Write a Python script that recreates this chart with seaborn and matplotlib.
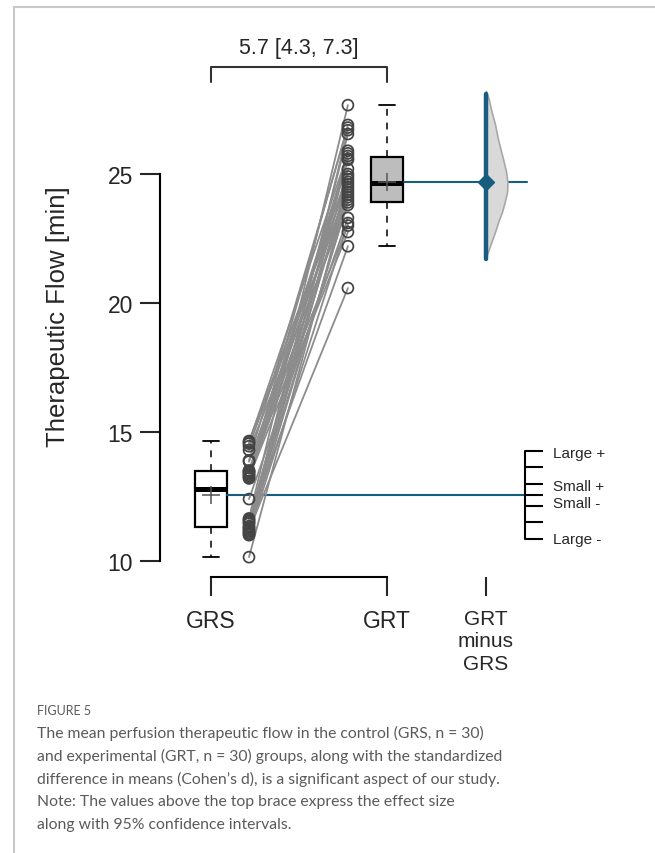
import matplotlib
matplotlib.use("Agg")
import matplotlib.pyplot as plt
from matplotlib.lines import Line2D
import numpy as np
import pandas as pd
import seaborn as sns

# paired measurements, subject i is grs[i] -> grt[i]
grs = [10.15, 11.0, 11.05, 11.1, 11.15, 11.2, 11.25, 11.3, 11.35, 11.45,
       11.5, 11.55, 11.6, 11.65, 12.4, 13.2, 13.25, 13.3, 13.35, 13.4,
       13.45, 13.5, 13.5, 13.85, 13.9, 14.3, 14.45, 14.55, 14.6, 14.65]
grt = [24.4, 25.9, 23.1, 26.7, 24.0, 20.58, 25.2, 24.8, 26.55, 23.9,
       22.2, 25.6, 24.6, 27.67, 23.3, 24.2, 22.75, 25.55, 24.9, 26.9,
       24.1, 23.0, 25.7, 24.5, 26.8, 23.8, 25.0, 24.3, 25.8, 24.7]
group_names = ["GRS", "GRT"]
diff_label = "GRT\nminus\nGRS"
y_label = "Therapeutic Flow [min]"

# Cohen's d and its 95% CI
d_mean = 5.7
d_ci = [4.3, 7.3]
effect_ticks = [-0.8, -0.5, -0.2, 0.0, 0.2, 0.5, 0.8]
effect_names = {0.8: "Large +", 0.2: "Small +", -0.2: "Small -", -0.8: "Large -"}

# outline of the bootstrap density (flow value, half width)
violin_y = [28.22, 27.9, 27.52, 26.94, 26.36, 25.9, 25.58, 25.1, 24.69,
            24.3, 23.9, 23.53, 23.15, 22.75, 22.35, 21.98, 21.78]
violin_w = [0.0, 0.016, 0.028, 0.051, 0.068, 0.085, 0.097, 0.114, 0.122,
            0.12, 0.106, 0.091, 0.07, 0.051, 0.03, 0.011, 0.0]

caption_head = "FIGURE 5"
caption = ["The mean perfusion therapeutic flow in the control (GRS, n = 30)",
           "and experimental (GRT, n = 30) groups, along with the standardized",
           "difference in means (Cohen\u2019s d), is a significant aspect of our study.",
           "Note: The values above the top brace express the effect size",
           "along with 95% confidence intervals."]

teal = "#165d7e"
sns.set_style("white")
plt.rcParams["font.family"] = ["Liberation Sans", "DejaVu Sans"]

n = len(grs)
df = pd.DataFrame({
    "group": ["GRS"] * n + ["GRT"] * n,
    "pos": [1] * n + [2] * n,
    "xpt": [1.216] * n + [1.778] * n,
    "value": grs + grt,
    "subject": list(range(n)) * 2,
})

fig = plt.figure(figsize=(6.55, 8.54), dpi=100)
ax = fig.add_axes([0, 0, 1, 1])
ax.set_facecolor("none")

sns.boxplot(data=df, x="pos", y="value", hue="group",
            palette={"GRS": "white", "GRT": "#bdbdbd"},
            native_scale=True, width=0.18, linecolor="black", linewidth=1.6,
            showfliers=False, showmeans=True, legend=False, ax=ax,
            medianprops=dict(linewidth=3.6, color="black"),
            whiskerprops=dict(linestyle=(0, (4.5, 4.5)), linewidth=1.1),
            capprops=dict(linewidth=1.3),
            meanprops=dict(marker="+", markeredgecolor="#555555",
                           markersize=13, markeredgewidth=1.1))

sns.lineplot(data=df, x="xpt", y="value", units="subject", estimator=None,
             color="#8c8c8c", linewidth=1.3, ax=ax, zorder=3)
sns.scatterplot(data=df, x="xpt", y="value", facecolors="none",
                edgecolor="#444444", s=62, linewidth=1.25, ax=ax, zorder=4)

grs_mean = np.mean(grs)
grt_mean = np.mean(grt)
sd = (grt_mean - grs_mean) / d_mean
x_diff = 2.5625
x_eff = 2.784

# mean lines
ax.plot([1.09, x_eff], [grs_mean, grs_mean], color=teal, lw=1.5, zorder=2)
ax.plot([2.09, 2.795], [grt_mean, grt_mean], color=teal, lw=1.5, zorder=2)

# bootstrap density and CI
ax.fill_betweenx(violin_y, x_diff, x_diff + np.array(violin_w),
                 facecolor="#d9d9d9", edgecolor="#a8a8a8", lw=1.2, zorder=3)
ax.plot([x_diff, x_diff], [grs_mean + d_ci[0] * sd, grs_mean + d_ci[1] * sd],
        color=teal, lw=3.2, solid_capstyle="round", zorder=4)
ax.plot([x_diff], [grs_mean + d_mean * sd], marker="D", ms=8.5,
        color=teal, zorder=5)

# effect size scale
eff_y = [grs_mean + t * sd for t in effect_ticks]
ax.plot([x_eff, x_eff], [eff_y[0], eff_y[-1]], color="black", lw=1.5)
for t, yv in zip(effect_ticks, eff_y):
    ax.plot([x_eff, x_eff + 0.105], [yv, yv], color="black", lw=1.5,
            solid_capstyle="butt")
label_nudge = {0.8: -0.08, 0.2: -0.09, -0.2: 0.09, -0.8: 0.0}
for t, name in effect_names.items():
    ax.text(x_eff + 0.157, grs_mean + t * sd + label_nudge[t], name,
            fontsize=11, va="center", ha="left")

# top brace with effect size
ax.plot([1, 1, 2, 2], [28.57, 29.15, 29.15, 28.57], color="#333333", lw=1.5)
ax.text(1.5, 29.92, f"{d_mean} [{d_ci[0]}, {d_ci[1]}]", fontsize=15.5,
        ha="center", va="center")

# axes
ax.set_xlim(-0.199, 3.523)
ax.set_ylim(-1.318, 31.783)
sns.despine(ax=ax, top=True, right=True)
ax.spines["left"].set_position(("data", 0.71))
ax.spines["left"].set_bounds(10, 25)
ax.spines["bottom"].set_position(("data", 9.38))
ax.spines["bottom"].set_bounds(1, 2)
for s in ["left", "bottom"]:
    ax.spines[s].set_linewidth(1.5)
    ax.spines[s].set_color("black")
ax.set_yticks([10, 15, 20, 25])
ax.tick_params(axis="y", length=14.4, width=1.5, pad=5, labelsize=16.5,
               left=True, direction="out")
ax.set_xticks([1, 2, x_diff], group_names + [diff_label])
ax.tick_params(axis="x", length=14, width=1.5, pad=9, labelsize=16.5,
               bottom=True, direction="out")
ax.get_xticklabels()[2].set_fontsize(15)
ax.get_xticklabels()[2].set_linespacing(1.22)
ax.set_xlabel("")
ax.set_ylabel(y_label, fontsize=18.5, va="center")
ax.yaxis.set_label_coords(58 / 655, 1 - 317 / 854)

# page frame and caption
fig.add_artist(Line2D([14 / 655, 14 / 655], [0, 1 - 8 / 854],
                      transform=fig.transFigure, color="#c8c8c8", lw=1.5))
fig.add_artist(Line2D([14 / 655, 1], [1 - 8 / 854, 1 - 8 / 854],
                      transform=fig.transFigure, color="#c8c8c8", lw=1.5))
cap_font = ["Lato", "DejaVu Sans"]
fig.text(37 / 655, 1 - 711 / 854, caption_head, fontsize=9, color="#5a5a5a",
         va="center", family=cap_font)
for i, line in enumerate(caption):
    fig.text(37 / 655, 1 - (733 + 23 * i) / 854, line, fontsize=11.3,
             color="#5a5a5a", va="center", family=cap_font)

fig.savefig("out.png", dpi=100)
